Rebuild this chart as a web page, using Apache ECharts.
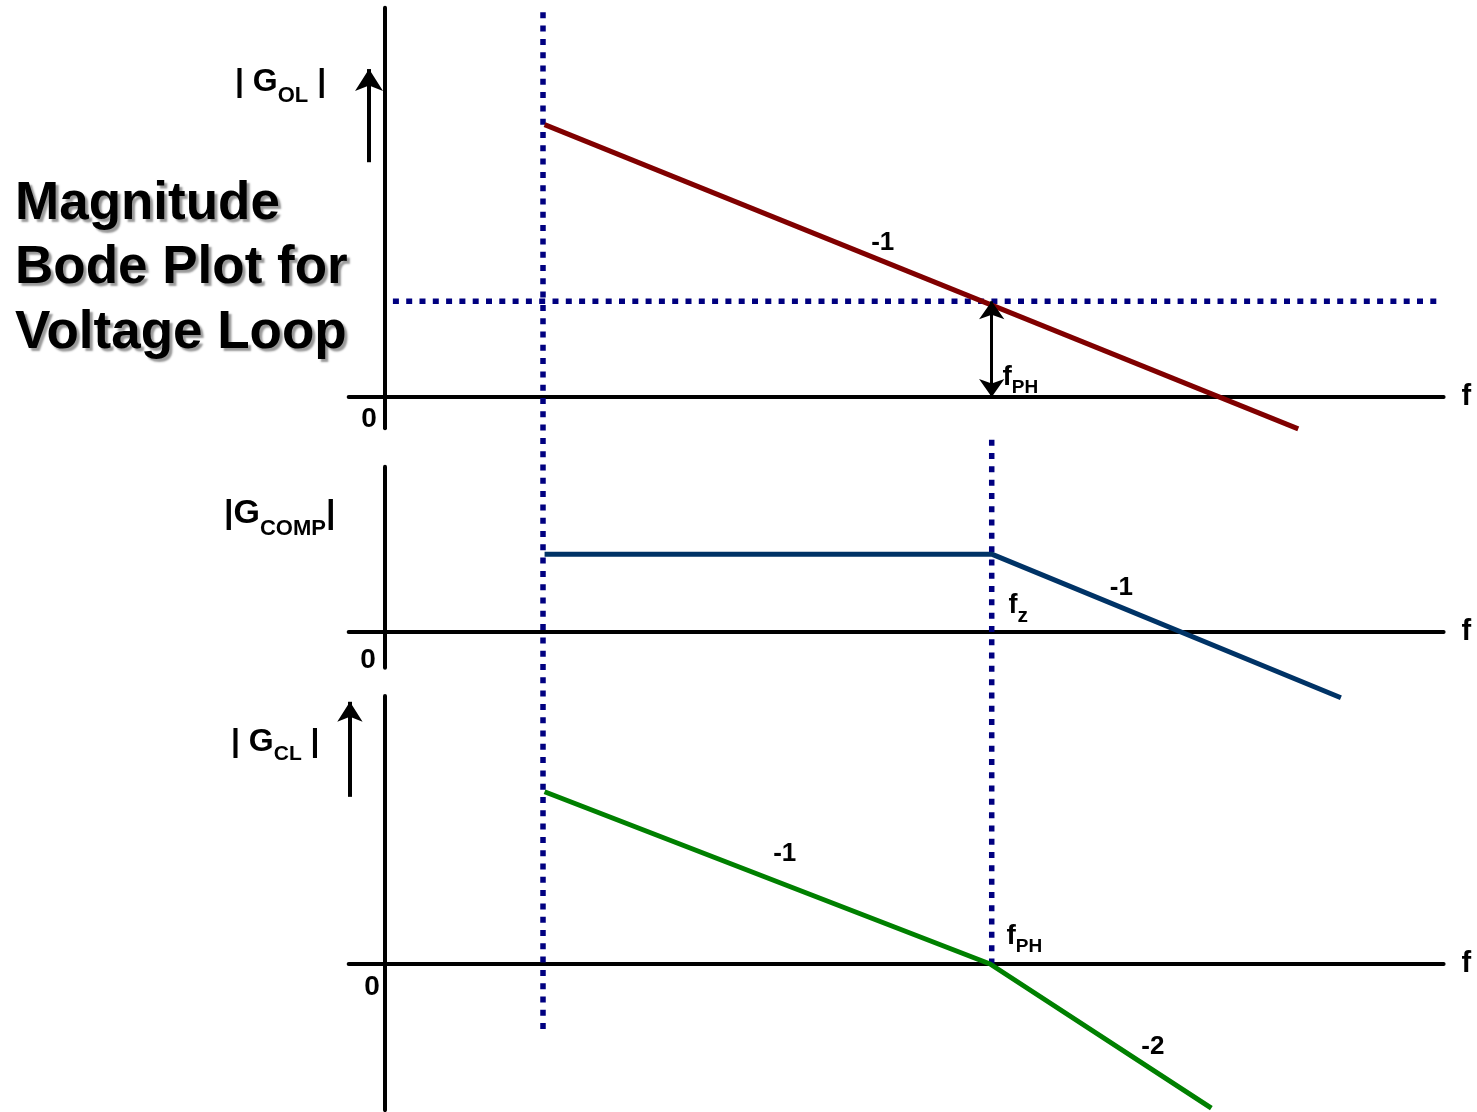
<!DOCTYPE html>
<html>
<head>
<meta charset="utf-8">
<title>Magnitude Bode Plot for Voltage Loop</title>
<script src="https://cdn.jsdelivr.net/npm/echarts@6/dist/echarts.min.js"></script>
<style>
  html, body { margin: 0; padding: 0; background: #fff; }
  #chart { width: 1477px; height: 1112px; }
</style>
</head>
<body>
<div id="chart"></div>
<script>
// x = log frequency (decades from the axis origin), y = gain in "slope units"
const olFreq = [1.01, 5.78];
const olGain = [4.27, -0.5];
const compFreq = [1.01, 3.84, 6.05];
const compGain = [1.22, 1.22, -1.03];
const clFreq = [1.01, 3.83, 5.23];
const clGain = [2.70, 0, -2.26];

const fLow = 1.0;            // left dotted marker
const fPH = 3.84;            // crossover / compensator zero
const phGain = 1.5;          // dotted level in the open loop plot
const hGuideFreq = [0.05, 6.68];
const lowGuideSpan = [6.03, -9.92];   // in open loop plot units
const phGuideSpan = [-0.67, -8.89];

// slope labels [text, x, y]
const olLabels = [['-1', 3.15, 2.41]];
const compLabels = [['-1', 4.66, 0.69]];
const clLabels = [['-1', 2.53, 1.72], ['-2', 4.86, -1.30]];
// origin "0" labels per panel [x, y]
const zeroLabels = [[-0.101, -0.35], [-0.108, -0.45], [-0.082, -0.37]];

// layout
const FONT = '"Liberation Sans", Arial, sans-serif';
const X0 = 385, PX = 158, PY = 63.8;
const xMin = -0.23, xMax = 6.7;
const panels = [
  { zero: 397, yMin: -0.49, yMax: 6.1 },
  { zero: 632, yMin: -0.56, yMax: 2.59 },
  { zero: 964, yMin: -2.29, yMax: 4.2 }
];

const pts = (xs, ys) => xs.map((x, i) => [x, ys[i]]);

const grid = panels.map(p => ({
  left: X0 + xMin * PX,
  top: p.zero - p.yMax * PY,
  width: (xMax - xMin) * PX,
  height: (p.yMax - p.yMin) * PY,
  outerBoundsMode: 'none'
}));

const xAxis = panels.map((p, i) => ({
  type: 'value', gridIndex: i, min: xMin, max: xMax,
  axisLine: { onZero: true, lineStyle: { color: '#000', width: 4 } },
  axisTick: { show: false }, axisLabel: { show: false }, splitLine: { show: false },
  name: 'f', nameLocation: 'end', nameGap: 18,
  nameTextStyle: { color: '#000', fontSize: 29, fontWeight: 'bold', fontFamily: FONT }
}));

const yAxis = panels.map((p, i) => ({
  type: 'value', gridIndex: i, min: p.yMin, max: p.yMax,
  axisLine: { show: true, onZero: true, lineStyle: { color: '#000', width: 4 } },
  axisTick: { show: false }, splitLine: { show: false }, axisLabel: { show: false }
}));

const textItem = (text, coord, size) => ({
  coord: coord,
  label: { show: true, position: 'inside', formatter: text, color: '#000', fontSize: size, fontWeight: 'bold', fontFamily: FONT }
});

const textLabel = (list, zero) => ({
  symbol: 'circle', symbolSize: 1, silent: true,
  itemStyle: { color: 'rgba(0,0,0,0)' },
  data: list.map(d => textItem(d[0], [d[1], d[2]], 26)).concat([textItem('0', zero, 28)])
});

const subLabel = (main, sub, coord, mainSize, subSize, lh) => ({
  coord: coord,
  label: {
    show: true, position: 'right', distance: 0, formatter: '{m|' + main + '}{s|' + sub + '}',
    rich: {
      m: { fontSize: mainSize, lineHeight: lh, fontWeight: 'bold', fontFamily: FONT, color: '#000' },
      s: { fontSize: subSize, lineHeight: subSize, verticalAlign: 'bottom', fontWeight: 'bold', fontFamily: FONT, color: '#000' }
    }
  }
});

const arrowLine = (symbols, x, y1, y2, size, width) => ({
  silent: true, symbol: symbols, symbolSize: size,
  lineStyle: { color: '#000', width: width, type: 'solid' },
  label: { show: false },
  data: [[{ coord: [x, y1] }, { coord: [x, y2] }]]
});

const dotted = { color: '#000080', width: 5.5, type: [6, 7.3], cap: 'butt' };

const series = [
  {
    type: 'line', xAxisIndex: 0, yAxisIndex: 0, clip: false, symbol: 'none', silent: true, z: 1,
    lineStyle: dotted, data: pts([fLow, fLow], lowGuideSpan)
  },
  {
    type: 'line', xAxisIndex: 0, yAxisIndex: 0, clip: false, symbol: 'none', silent: true, z: 1,
    lineStyle: dotted, data: pts([fPH, fPH], phGuideSpan)
  },
  {
    type: 'line', xAxisIndex: 0, yAxisIndex: 0, clip: false, symbol: 'none', silent: true, z: 1,
    lineStyle: dotted, data: pts(hGuideFreq, [phGain, phGain])
  },
  {
    name: '|G_OL|', type: 'line', xAxisIndex: 0, yAxisIndex: 0, clip: false, symbol: 'none', silent: true, z: 3,
    lineStyle: { color: '#800000', width: 5 }, data: pts(olFreq, olGain),
    markPoint: textLabel(olLabels, zeroLabels[0]),
    markLine: arrowLine(['arrow', 'arrow'], fPH, phGain, 0, [19, 18], 3)
  },
  {
    type: 'line', xAxisIndex: 0, yAxisIndex: 0, clip: false, symbol: 'none', silent: true, data: [],
    markPoint: {
      symbol: 'circle', symbolSize: 1, silent: true, itemStyle: { color: 'rgba(0,0,0,0)' },
      data: [subLabel('f', 'PH', [3.905, 0.31], 28, 19, 41)]
    },
    markLine: arrowLine(['none', 'arrow'], -0.101, 3.68, 5.14, [21, 22], 4)
  },
  {
    name: '|G_COMP|', type: 'line', xAxisIndex: 1, yAxisIndex: 1, clip: false, symbol: 'none', silent: true, z: 3,
    lineStyle: { color: '#003366', width: 5 }, data: pts(compFreq, compGain),
    markPoint: textLabel(compLabels, zeroLabels[1])
  },
  {
    type: 'line', xAxisIndex: 1, yAxisIndex: 1, clip: false, symbol: 'none', silent: true, data: [],
    markPoint: {
      symbol: 'circle', symbolSize: 1, silent: true, itemStyle: { color: 'rgba(0,0,0,0)' },
      data: [subLabel('f', 'z', [3.943, 0.42], 27, 21, 43)]
    }
  },
  {
    name: '|G_CL|', type: 'line', xAxisIndex: 2, yAxisIndex: 2, clip: false, symbol: 'none', silent: true, z: 3,
    lineStyle: { color: '#008000', width: 5 }, data: pts(clFreq, clGain),
    markPoint: textLabel(clLabels, zeroLabels[2]),
    markLine: arrowLine(['none', 'arrow'], -0.222, 2.62, 4.11, [19, 20], 4)
  },
  {
    type: 'line', xAxisIndex: 2, yAxisIndex: 2, clip: false, symbol: 'none', silent: true, data: [],
    markPoint: {
      symbol: 'circle', symbolSize: 1, silent: true, itemStyle: { color: 'rgba(0,0,0,0)' },
      data: [subLabel('f', 'PH', [3.93, 0.44], 28, 19, 41)]
    }
  }
];

const axisTitle = (x, y, main, sub, tail, mainSize, subSize, lh) => ({
  type: 'text', x: x, y: y, silent: true,
  style: {
    text: '{m|' + main + '}{s|' + sub + '}{m|' + tail + '}',
    verticalAlign: 'middle', align: 'left',
    rich: {
      m: { fontSize: mainSize, lineHeight: lh, fontWeight: 'bold', fontFamily: FONT, fill: '#000' },
      s: { fontSize: subSize, lineHeight: subSize, verticalAlign: 'bottom', fontWeight: 'bold', fontFamily: FONT, fill: '#000' }
    }
  }
});

const option = {
  animation: false,
  backgroundColor: '#fff',
  title: {
    text: 'Magnitude\nBode Plot for\nVoltage Loop',
    left: 15, top: 172, padding: 0,
    textStyle: {
      color: '#000', fontSize: 53, fontWeight: 'bold', fontFamily: FONT, lineHeight: 64.5,
      textShadowColor: '#999', textShadowOffsetX: 3, textShadowOffsetY: 3, textShadowBlur: 2
    }
  },
  grid: grid,
  xAxis: xAxis,
  yAxis: yAxis,
  series: series,
  graphic: [
    axisTitle(235, 82, '| G', 'OL', ' |', 32, 22, 50),
    axisTitle(224, 514, '|G', 'COMP', '|', 34, 22, 51),
    axisTitle(231, 742, '| G', 'CL', ' |', 32, 21, 46)
  ]
};

const myChart = echarts.init(document.getElementById('chart'));
myChart.setOption(option);
</script>
</body>
</html>
